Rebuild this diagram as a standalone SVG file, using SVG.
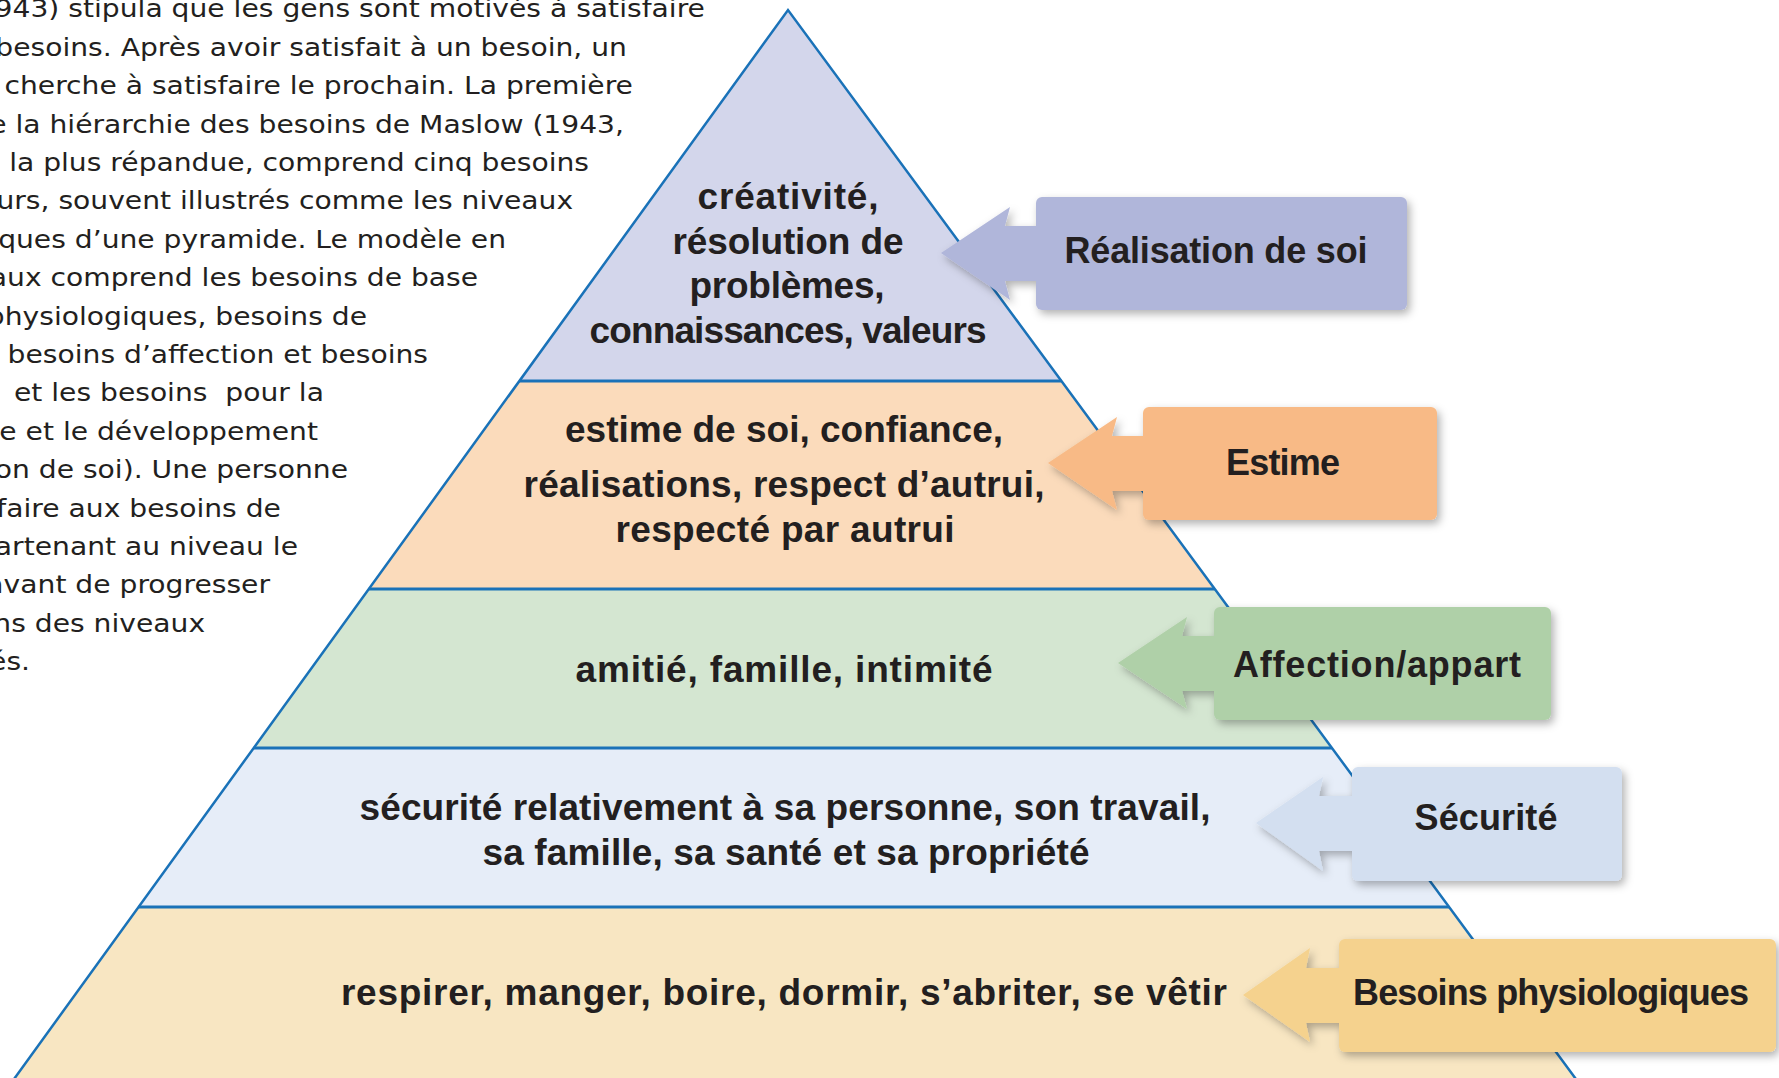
<svg xmlns="http://www.w3.org/2000/svg" width="1779" height="1078" viewBox="0 0 1779 1078">
<style>
.para{font-family:"DejaVu Sans","Liberation Sans",sans-serif;font-size:24.5px;fill:#231f20;text-anchor:end}
.lvl{font-family:"Liberation Sans",Arial,sans-serif;font-weight:bold;font-size:37px;fill:#231f20;text-anchor:middle}
.lab{font-family:"Liberation Sans",Arial,sans-serif;font-weight:bold;font-size:36px;fill:#231f20;text-anchor:middle}
.edge{fill:none;stroke:#1a72b8;stroke-width:2.5;stroke-linejoin:miter}
.div{stroke:#1a72b8;stroke-width:3}
</style>
<defs>
<filter id="sh" x="-10%" y="-20%" width="125%" height="150%">
<feDropShadow dx="3" dy="4" stdDeviation="4" flood-color="#000" flood-opacity="0.3"/>
</filter>
</defs>
<rect width="1779" height="1078" fill="#ffffff"/>

<g id="paragraph" transform="scale(1.15,1)">
<text class="para" x="613" y="17.4">943) stipula que les gens sont motivés à satisfaire</text>
<text class="para" x="545.2" y="55.8">besoins. Après avoir satisfait à un besoin, un</text>
<text class="para" x="550.4" y="94.2">cherche à satisfaire le prochain. La première</text>
<text class="para" x="542.6" y="132.6">e la hiérarchie des besoins de Maslow (1943,</text>
<text class="para" x="512.2" y="171">la plus répandue, comprend cinq besoins</text>
<text class="para" x="498.3" y="209.4">urs, souvent illustrés comme les niveaux</text>
<text class="para" x="440" y="247.8">ques d’une pyramide. Le modèle en</text>
<text class="para" x="415.7" y="286.2">aux comprend les besoins de base</text>
<text class="para" x="319.1" y="324.6">physiologiques, besoins de</text>
<text class="para" x="372.2" y="363">besoins d’affection et besoins</text>
<text class="para" x="281.7" y="401.4">et les besoins&#160; pour la</text>
<text class="para" x="276.5" y="439.8">e et le développement</text>
<text class="para" x="302.6" y="478.2">on de soi). Une personne</text>
<text class="para" x="244.3" y="516.6">faire aux besoins de</text>
<text class="para" x="259.1" y="555">artenant au niveau le</text>
<text class="para" x="234.8" y="593.4">avant de progresser</text>
<text class="para" x="178.3" y="631.8">ns des niveaux</text>
<text class="para" x="26.1" y="670.2">és.</text>
</g>

<g id="level-realisation">
<polygon points="788,10 1061.4,381 519.4,381" fill="#d3d6eb"/>
<text class="lvl" x="788" y="209" textLength="181">créativité,</text>
<text class="lvl" x="788" y="254" textLength="231">résolution de</text>
<text class="lvl" x="787" y="298" textLength="195">problèmes,</text>
<text class="lvl" x="788" y="343" textLength="397">connaissances, valeurs</text>
</g>
<g id="level-estime">
<polygon points="519.4,381 1061.4,381 1214.7,589 368.8,589" fill="#fbdbbb"/>
<text class="lvl" x="784" y="442" textLength="438">estime de soi, confiance,</text>
<text class="lvl" x="784" y="497" textLength="521">réalisations, respect d’autrui,</text>
<text class="lvl" x="785" y="542" textLength="339">respecté par autrui</text>
</g>
<g id="level-affection">
<polygon points="368.8,589 1214.7,589 1331.9,748 253.7,748" fill="#d4e6d1"/>
<text class="lvl" x="784" y="682" textLength="417">amitié, famille, intimité</text>
</g>
<g id="level-securite">
<polygon points="253.7,748 1331.9,748 1449.1,907 138.6,907" fill="#e6edf8"/>
<text class="lvl" x="785" y="820" textLength="851">sécurité relativement à sa personne, son travail,</text>
<text class="lvl" x="786" y="865" textLength="607">sa famille, sa santé et sa propriété</text>
</g>
<g id="level-physiologique">
<polygon points="138.6,907 1449.1,907 1584,1090 6.1,1090" fill="#f8e6c2"/>
<text class="lvl" x="784" y="1005" textLength="886">respirer, manger, boire, dormir, s’abriter, se vêtir</text>
</g>

<g id="outline">
<polyline class="edge" points="6.1,1090 788,10 1584,1090"/>
<line class="div" x1="519.4" y1="381" x2="1061.4" y2="381"/>
<line class="div" x1="368.8" y1="589" x2="1214.7" y2="589"/>
<line class="div" x1="253.7" y1="748" x2="1331.9" y2="748"/>
<line class="div" x1="138.6" y1="907" x2="1449.1" y2="907"/>
</g>

<g id="connectors">
<g id="callout-realisation" filter="url(#sh)" fill="#b0b6da">
<path d="M941,253 L1010,207 L1005,226 L1037,226 L1037,281 L1005,281 L1010,300 Z"/>
<rect x="1036" y="197" width="371" height="113" rx="6"/>
</g>
<g id="callout-estime" filter="url(#sh)" fill="#f8ba86">
<path d="M1048,463 L1117,417 L1112,436 L1144,436 L1144,491 L1112,491 L1117,510 Z"/>
<rect x="1143" y="407" width="294" height="113" rx="6"/>
</g>
<g id="callout-affection" filter="url(#sh)" fill="#afd0a8">
<path d="M1118,663 L1187,617 L1182,636 L1215,636 L1215,691 L1182,691 L1187,709 Z"/>
<rect x="1214" y="607" width="337" height="113" rx="6"/>
</g>
<g id="callout-securite" filter="url(#sh)" fill="#d3dff0">
<path d="M1256,823 L1323,777 L1319,796 L1353,796 L1353,851 L1319,851 L1323,871 Z"/>
<rect x="1352" y="767" width="270" height="114" rx="6"/>
</g>
<g id="callout-physio" filter="url(#sh)" fill="#f5d28e">
<path d="M1243,995 L1310,948 L1306,968 L1340,968 L1340,1023 L1306,1023 L1310,1042 Z"/>
<rect x="1339" y="939" width="437" height="113" rx="6"/>
</g>
</g>

<g id="labels">
<text class="lab" x="1216" y="263" textLength="303">Réalisation de soi</text>
<text class="lab" x="1283" y="475" textLength="114">Estime</text>
<text class="lab" x="1377" y="677" textLength="288">Affection/appart</text>
<text class="lab" x="1486" y="830" textLength="143">Sécurité</text>
<text class="lab" x="1551" y="1005" textLength="396">Besoins physiologiques</text>
</g>
</svg>
